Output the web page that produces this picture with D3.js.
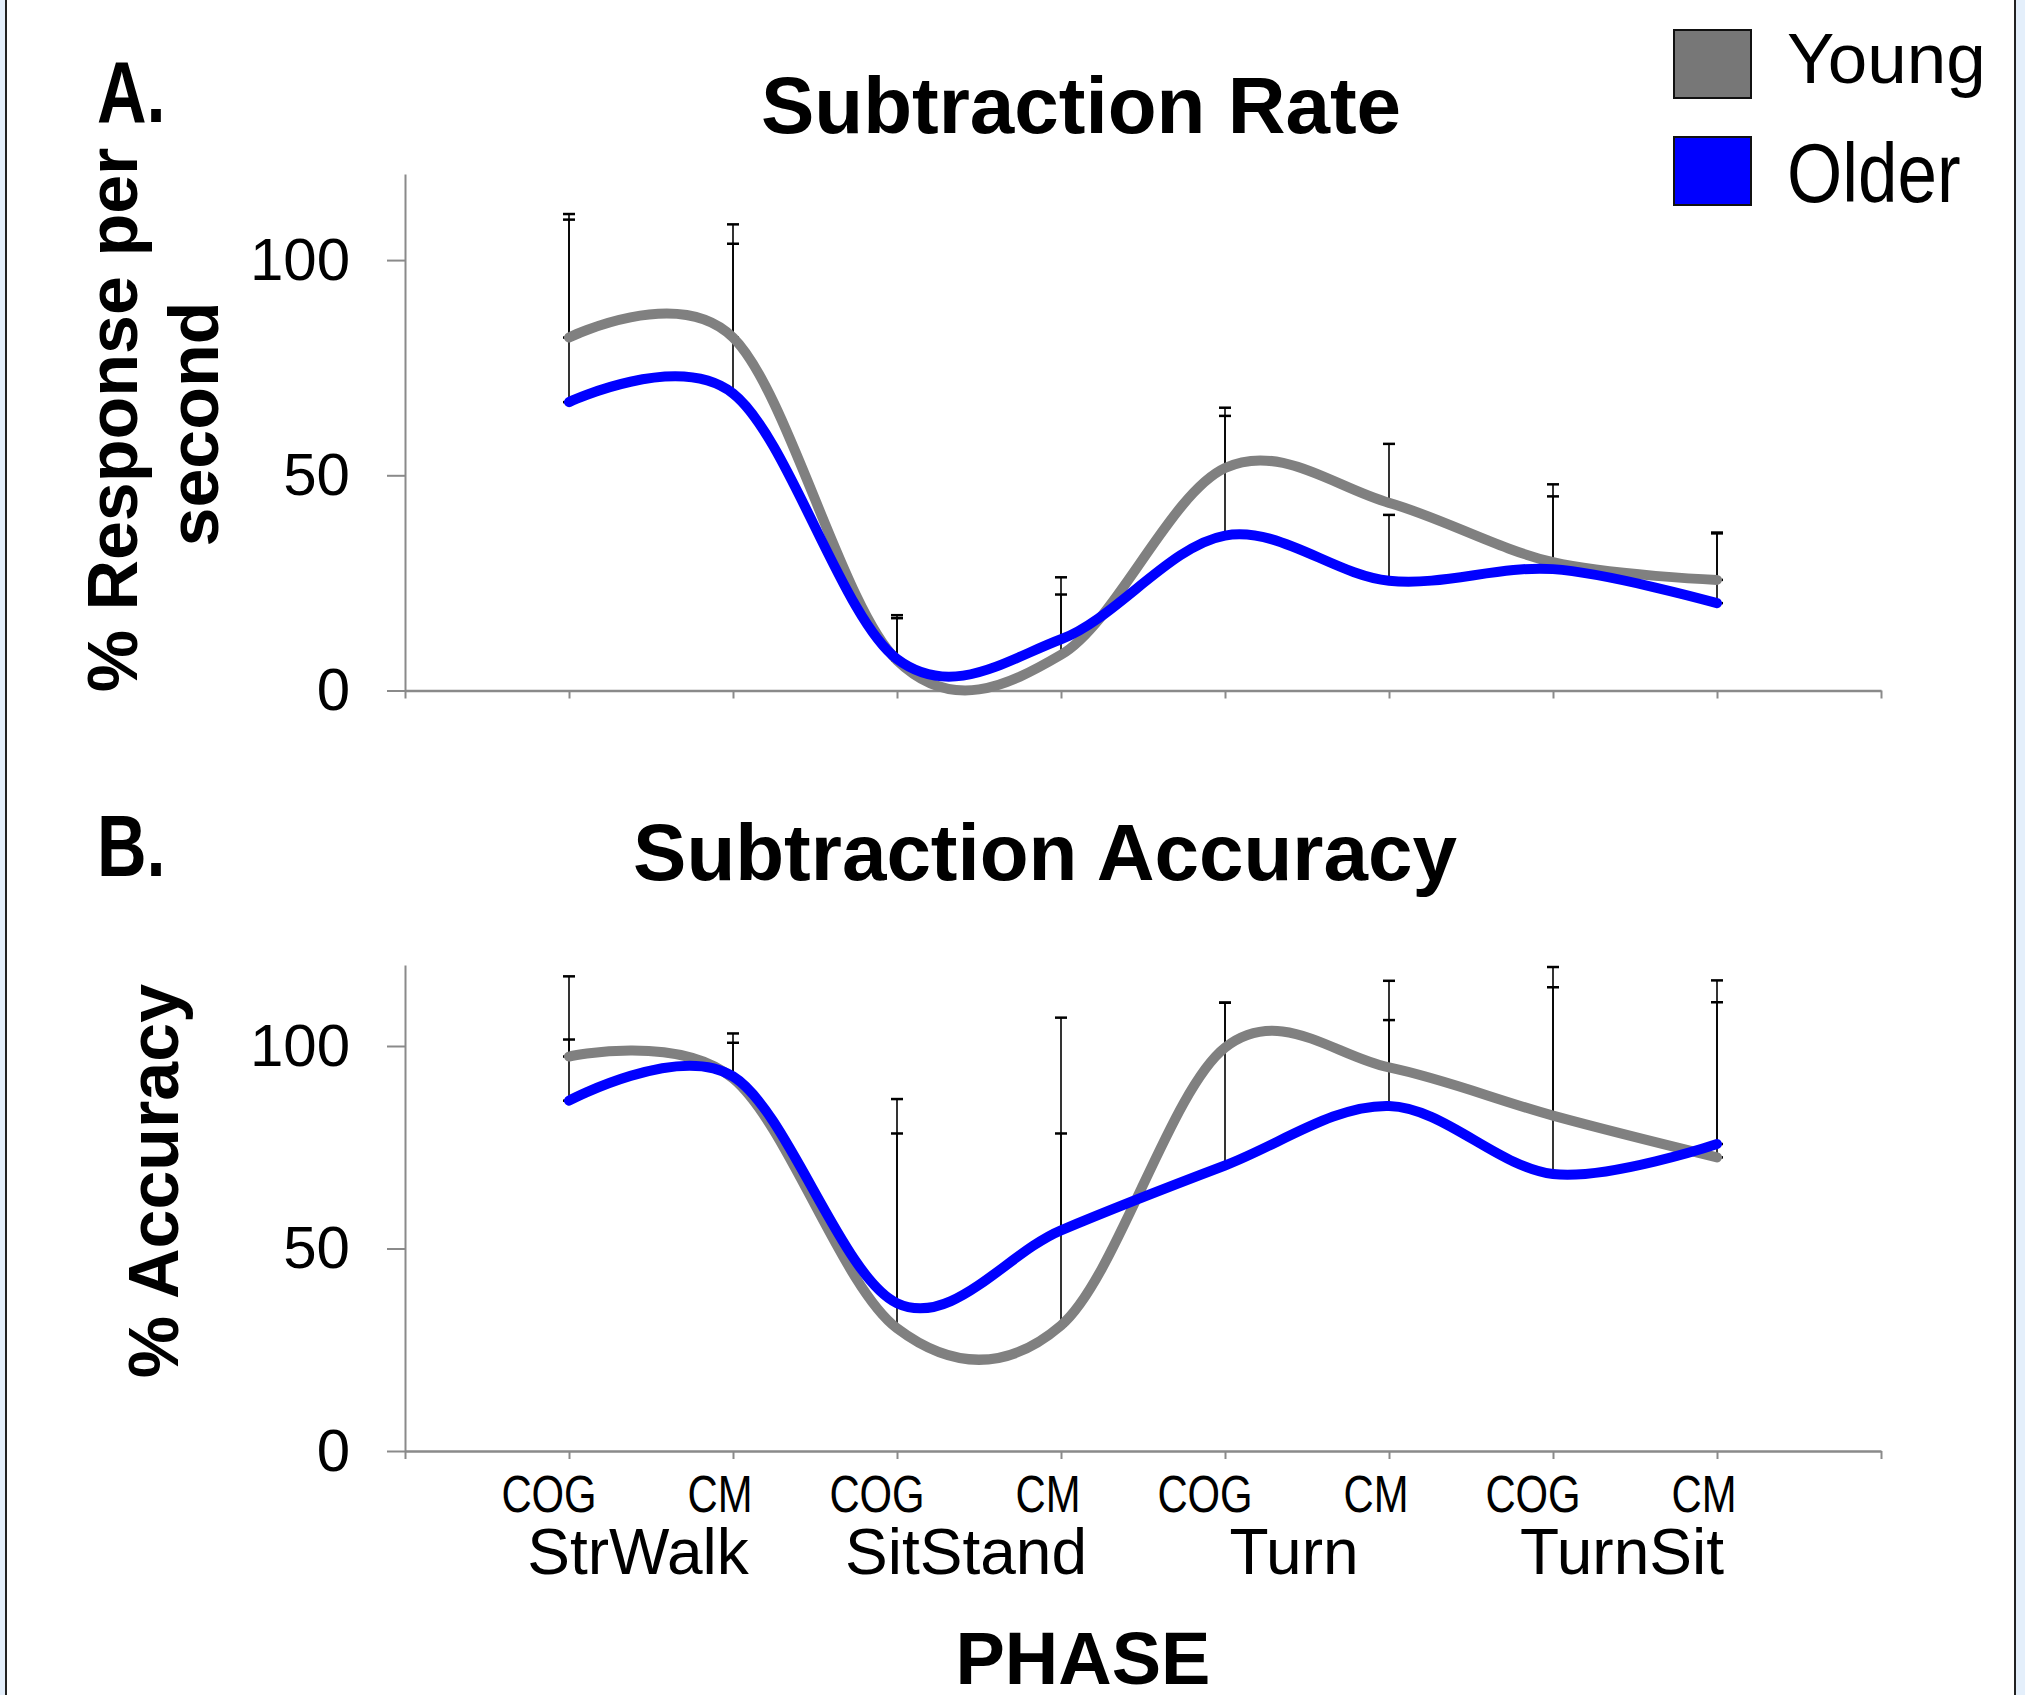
<!DOCTYPE html>
<html>
<head>
<meta charset="utf-8">
<script src="https://cdn.jsdelivr.net/npm/d3@7"></script>
<style>
  html, body { margin: 0; padding: 0; background: #fff; }
  svg { display: block; font-family: "Liberation Sans", Arial, sans-serif; }
</style>
</head>
<body>
<div id="chart"></div>
<script>
// categories along the x axis
const categories = ["COG", "CM", "COG", "CM", "COG", "CM", "COG", "CM"];
const phases = ["StrWalk", "SitStand", "Turn", "TurnSit"];
const yTicks = [0, 50, 100];
const groups = ["Young", "Older"];

// A. subtraction rate (% response per second) and upper SD
const rateYoung = [82, 82, 7, 8.3, 51.7, 43.6, 29.8, 25.7];
const rateYoungSD = [28.7, 26.3, 10.5, 18, 14, 13.7, 18.1, 11];
const rateOlder = [67, 69, 7.3, 11.9, 36, 25.5, 28.2, 20.3];
const rateOlderSD = [42.4, 34.8, 9.5, 10.4, 27.8, 15.3, 16.9, 16.2];

// B. subtraction accuracy (%) and upper SD
const accYoung = [97.4, 92, 30.3, 31, 99.6, 94.7, 82.8, 72.5];
const accYoungSD = [19.8, 11.1, 48.1, 47.4, 11.1, 21.4, 31.7, 38.3];
const accOlder = [86.5, 92.5, 36.5, 54.5, 70.5, 85.2, 68.4, 75.8];
const accOlderSD = [15.1, 8.3, 50.4, 52.5, 40.2, 21.2, 51.1, 40.4];

const colors = { Young: "#808080", Older: "#0000ff" };

const W = 2025, H = 1695;

const svg = d3.select("#chart")
  .append("svg")
  .attr("width", W)
  .attr("height", H);

// page frame
svg.append("rect").attr("x", 0).attr("y", 0).attr("width", 5).attr("height", H).attr("fill", "#e4effb");
svg.append("rect").attr("x", 2016).attr("y", 0).attr("width", 9).attr("height", H).attr("fill", "#e4effb");
svg.append("rect").attr("x", 5).attr("y", 0).attr("width", 2).attr("height", H).attr("fill", "#222");
svg.append("rect").attr("x", 2014).attr("y", 0).attr("width", 2).attr("height", H).attr("fill", "#222");

const x = d3.scaleLinear().domain([0, 9]).range([405, 1881]);

const line = (y) => d3.line()
  .x((d, i) => x(i + 1))
  .y(d => y(d))
  .curve(d3.curveCardinal.tension(0));

function panel(y, series, title, titleX, titleY, letter, letterY, ylabel) {
  const g = svg.append("g");

  // y axis
  g.append("g")
    .attr("transform", `translate(${x(0)},0)`)
    .call(d3.axisLeft(y).tickValues(yTicks).tickSize(18).tickSizeOuter(0).tickPadding(37))
    .call(a => a.select(".domain").attr("stroke", "#8a8a8a").attr("stroke-width", 2))
    .call(a => a.selectAll(".tick line").attr("stroke", "#8a8a8a").attr("stroke-width", 2))
    .call(a => a.selectAll("text")
      .attr("fill", "#000")
      .style("font-family", "Liberation Sans, Arial, sans-serif")
      .style("font-size", "60px"));

  // x axis
  g.append("g")
    .attr("transform", `translate(0,${y(0)})`)
    .call(d3.axisBottom(x).tickValues(d3.range(0, 10)).tickSize(8).tickSizeOuter(0).tickFormat(""))
    .call(a => a.select(".domain").attr("stroke", "#8a8a8a").attr("stroke-width", 2.5))
    .call(a => a.selectAll(".tick line").attr("stroke", "#8a8a8a").attr("stroke-width", 2));

  // error bars (upper only, caps at mean and top)
  series.forEach(s => {
    const eb = g.append("g");
    s.values.forEach((v, i) => {
      const cx = x(i + 1);
      eb.append("line")
        .attr("x1", cx).attr("x2", cx)
        .attr("y1", y(v)).attr("y2", y(v + s.sd[i]))
        .attr("stroke", "#000").attr("stroke-width", 1.6);
      [v, v + s.sd[i]].forEach(c => {
        eb.append("line")
          .attr("x1", cx - 6).attr("x2", cx + 6)
          .attr("y1", y(c)).attr("y2", y(c))
          .attr("stroke", "#000").attr("stroke-width", 2.5);
      });
    });
  });

  // smoothed lines
  series.forEach(s => {
    g.append("path")
      .datum(s.values)
      .attr("d", line(y))
      .attr("fill", "none")
      .attr("stroke", colors[s.name])
      .attr("stroke-width", 10)
      .attr("stroke-linecap", "round");
  });

  // title
  svg.append("text")
    .attr("x", titleX).attr("y", titleY)
    .attr("text-anchor", "middle")
    .style("font-size", "80px").style("font-weight", "bold")
    .text(title);

  // panel letter (narrow)
  svg.append("text")
    .attr("transform", `translate(97,${letterY}) scale(0.78,1)`)
    .style("font-size", "88px").style("font-weight", "bold")
    .text(letter);

  // y label lines
  ylabel.forEach(l => {
    svg.append("text")
      .attr("transform", `translate(${l.x},${l.y}) rotate(-90)`)
      .attr("text-anchor", "middle")
      .style("font-size", "70px").style("font-weight", "bold")
      .text(l.text);
  });
}

const yA = d3.scaleLinear().domain([0, 120]).range([690.5, 174]);
const yB = d3.scaleLinear().domain([0, 120]).range([1451, 965]);

panel(yA, [
  { name: "Young", values: rateYoung, sd: rateYoungSD },
  { name: "Older", values: rateOlder, sd: rateOlderSD }
], "Subtraction Rate", 1081, 133, "A.", 122, [
  { text: "% Response per", x: 137, y: 420 },
  { text: "second", x: 218, y: 424 }
]);

panel(yB, [
  { name: "Young", values: accYoung, sd: accYoungSD },
  { name: "Older", values: accOlder, sd: accOlderSD }
], "Subtraction Accuracy", 1045, 880, "B.", 876, [
  { text: "% Accuracy", x: 178, y: 1181 }
]);

// category labels under panel B
svg.selectAll(".cat")
  .data(categories)
  .enter()
  .append("text")
  .attr("class", "cat")
  .attr("transform", (d, i) => `translate(${x(i + 1) - (d === "COG" ? 20 : 13)},1512) scale(0.82,1)`)
  .attr("text-anchor", "middle")
  .style("font-size", "51px")
  .text(d => d);

svg.selectAll(".phase")
  .data(phases)
  .enter()
  .append("text")
  .attr("class", "phase")
  .attr("x", (d, i) => (x(2 * i + 1) + x(2 * i + 2)) / 2 - 13)
  .attr("y", 1574)
  .attr("text-anchor", "middle")
  .style("font-size", "64px")
  .text(d => d);

svg.append("text")
  .attr("x", 1083).attr("y", 1684)
  .attr("text-anchor", "middle")
  .style("font-size", "74px").style("font-weight", "bold")
  .text("PHASE");

// legend
const legend = svg.append("g");
groups.forEach((name, i) => {
  legend.append("rect")
    .attr("x", 1674).attr("y", 30 + i * 107)
    .attr("width", 77).attr("height", 68)
    .attr("fill", name === "Young" ? "#777777" : colors[name])
    .attr("stroke", "#111").attr("stroke-width", 2);
  legend.append("text")
    .attr("transform", i === 0 ? "translate(1787,83)" : "translate(1787,202) scale(1,1.18)")
    .style("font-size", "71px")
    .text(name);
});
</script>
</body>
</html>
